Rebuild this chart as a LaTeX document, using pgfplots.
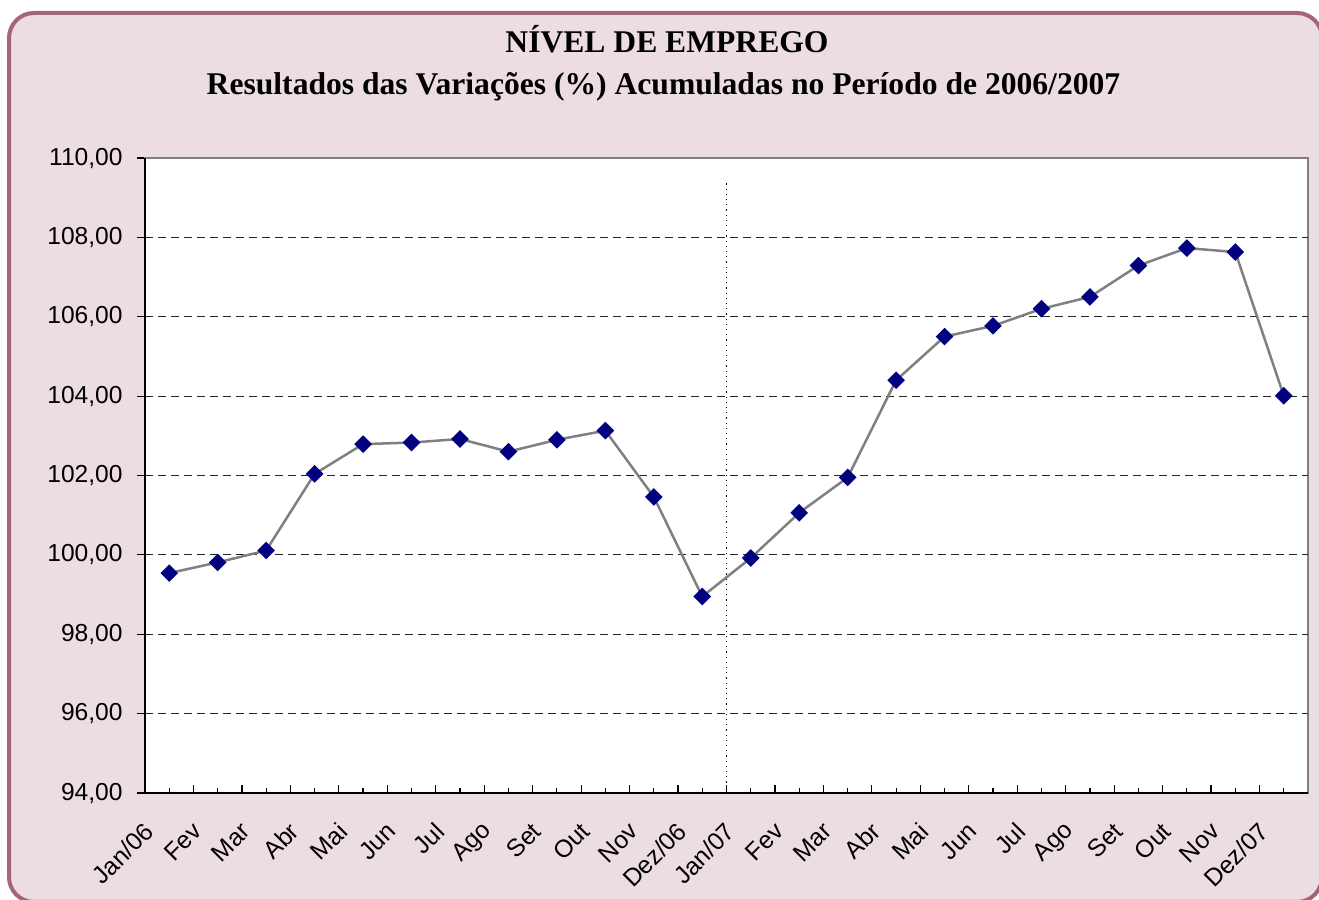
\documentclass[border=0pt]{standalone}
\usepackage{pgfplots}
\pgfplotsset{compat=1.18}
\usepackage{fontspec}
\setmainfont{Liberation Sans}
\newfontfamily\titlefont{Liberation Serif}

\definecolor{bgpink}{RGB}{235,221,226}
\definecolor{framecol}{RGB}{163,100,125}
\definecolor{navy}{RGB}{0,0,128}
\definecolor{linegray}{RGB}{128,128,128}

\begin{document}
\begin{tikzpicture}[x=0.5pt,y=0.5pt]
\useasboundingbox (0,0) rectangle (1319,900);
\draw[line width=2pt, draw=framecol, fill=bgpink, rounded corners=12.5pt] (9,-2) rectangle (1322,887);

\node[anchor=base, inner sep=0pt, font=\titlefont\bfseries\fontsize{15.8}{19}\selectfont] at (667,847) {NÍVEL DE EMPREGO};
\node[anchor=base, inner sep=0pt, font=\titlefont\bfseries\fontsize{15.8}{19}\selectfont] at (663.5,805) {Resultados das Variações (\%) Acumuladas no Período de 2006/2007};

\begin{axis}[
    at={(72.5pt,53.5pt)}, anchor=south west,
    width=581.5pt, height=317.5pt, scale only axis,
    xmin=0, xmax=24, ymin=94, ymax=110,
    axis background/.style={fill=white},
    axis line style={draw=linegray, line width=1pt},
    xtick={0,...,24},
    x tick label as interval,
    xticklabels={Jan/06,Fev,Mar,Abr,Mai,Jun,Jul,Ago,Set,Out,Nov,Dez/06,Jan/07,Fev,Mar,Abr,Mai,Jun,Jul,Ago,Set,Out,Nov,Dez/07},
    minor xtick={0.5,1.5,...,23.5},
    major tick length=4pt, minor tick length=2.5pt,
    xtick align=inside, ytick align=outside,
    xtick pos=bottom, ytick pos=left,
    tick style={black, line width=0.6pt},
    ytick={94,96,...,110},
    extra y ticks={96,98,...,108},
    extra y tick labels={},
    extra y tick style={ymajorgrids=true},
    major grid style={black!85, line width=0.6pt, dash pattern=on 4pt off 2.5pt},
    /pgf/number format/fixed,
    /pgf/number format/fixed zerofill,
    /pgf/number format/precision=2,
    /pgf/number format/use comma,
    /pgf/number format/1000 sep={},
    /pgf/number format/assume math mode=true,
    yticklabel style={font=\fontsize{12.3}{14}\selectfont, inner sep=0pt, xshift=-7pt},
    xticklabel style={font=\fontsize{12.3}{14}\selectfont, inner sep=0pt, xshift=-10pt, yshift=-17pt, rotate=45, anchor=east},
    clip=false,
]
\addplot[black, dotted, line width=0.6pt, forget plot] coordinates {(12,94) (12,109.45)};
\addplot[linegray, line width=1.25pt, mark=square*, mark size=2.5pt,
    mark options={rotate=45, fill=navy, draw=navy, solid}] coordinates {
    (0.5,99.54) (1.5,99.81) (2.5,100.11) (3.5,102.04) (4.5,102.79) (5.5,102.83)
    (6.5,102.92) (7.5,102.60) (8.5,102.90) (9.5,103.13) (10.5,101.46) (11.5,98.95)
    (12.5,99.92) (13.5,101.06) (14.5,101.95) (15.5,104.40) (16.5,105.50) (17.5,105.77)
    (18.5,106.20) (19.5,106.50) (20.5,107.29) (21.5,107.73) (22.5,107.63) (23.5,104.01)
};
\draw[black, line width=0.75pt] (rel axis cs:0,1) -- (rel axis cs:0,0) -- (rel axis cs:1,0);
\end{axis}
\end{tikzpicture}
\end{document}
